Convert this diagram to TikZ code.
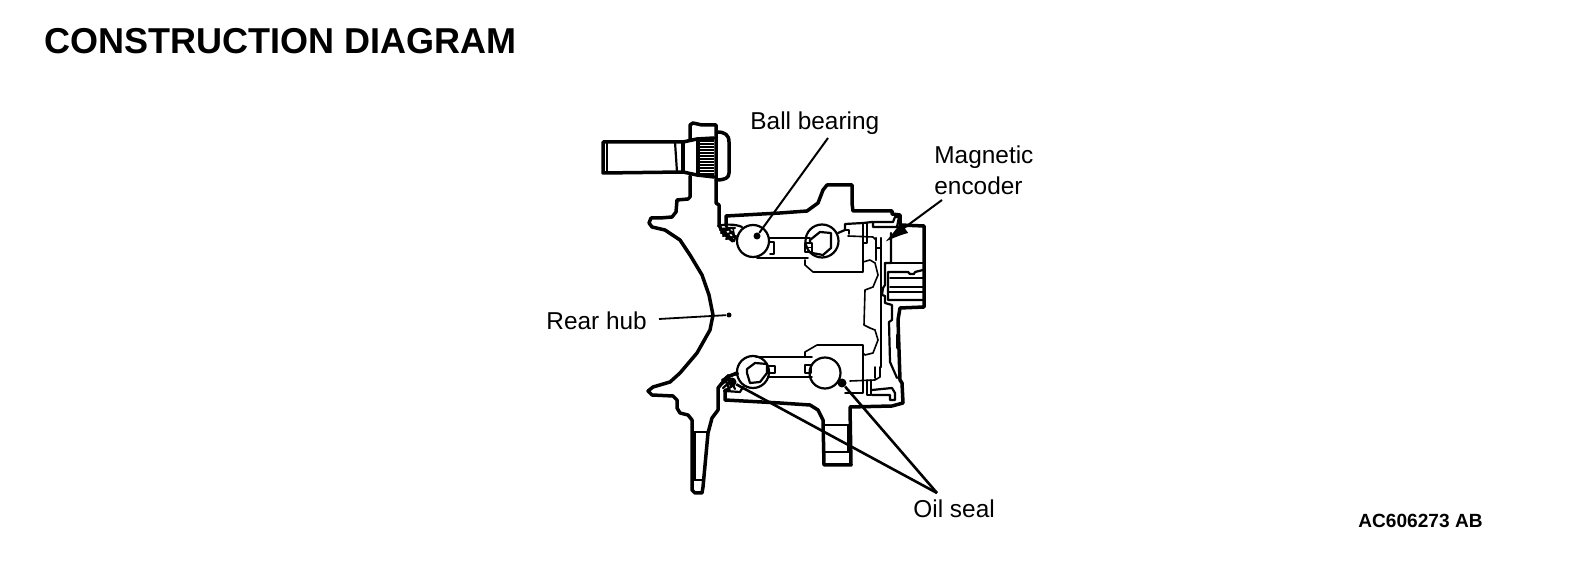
\documentclass[tikz,border=0pt]{standalone}
\usepackage{fontspec}
\setmainfont{Liberation Sans}
\usetikzlibrary{arrows.meta}
\tikzset{
 thick line/.style={line width=1.75pt,line join=round,line cap=round},
 mid line/.style={line width=1.1pt,line join=round,line cap=round},
 thin line/.style={line width=0.8pt,line join=round,line cap=round},
 leader/.style={line width=1pt},
 lab/.style={font=\fontsize{12.2pt}{15pt}\selectfont,inner sep=0pt,text=black,anchor=base west},
 dotm/.style={circle,fill=black,minimum size=3.5pt,inner sep=0pt}
}
\begin{document}
\begin{tikzpicture}[x=0.5pt,y=-0.5pt]
\useasboundingbox (0,0) rectangle (1584,576);
\fill[white] (0,0) rectangle (1584,576);
% Texts
\node[font=\bfseries\fontsize{18pt}{20pt}\selectfont,anchor=base west,inner sep=0pt] (title) at (44.5,54) {CONSTRUCTION DIAGRAM};
\node[font=\bfseries\fontsize{9.55pt}{11pt}\selectfont,anchor=base west,inner sep=0pt] (code) at (1358,528) {AC606273 AB};
\node[lab] (ball) at (750,130) {Ball bearing};
\node[lab] (magneta) at (934,164) {Magnetic};
\node[lab] (magnetb) at (934,195) {encoder};
\node[lab] (hub) at (546,330) {Rear hub};
\node[lab] (oil) at (913,517) {Oil seal};
% Stud
\draw[thick line] (683,142) -- (603,142) -- (603,173) -- (683,172);
\draw[mid line] (607,142) -- (607,173);
\draw[mid line] (675,142) -- (677,172);
\draw[thick line] (683,142) -- (683,172);
\draw[thick line] (683,142) -- (697,139) -- (714,138) (683,172) -- (697,175) -- (714,177);
\draw[thick line] (698,139) -- (698,175);
\foreach \y in {141,144,...,175}{\draw[line width=0.7pt] (700,\y) -- (714,\y);}
% Flange and hub outline
\draw[thick line] (717,132) .. controls (725,132) and (729,135) .. (729,142) -- (729,173) .. controls (729,178) and (725,180) .. (716,180);
\draw[thick line] (690,139) -- (690,125) -- (693,123) -- (702,125) -- (716,125) -- (716,203) -- (719,205) -- (719,225) -- (723,233) -- (733,241);
\draw[thick line] (690,176) -- (690,197) -- (688,199) -- (677,200) -- (676,212) -- (672,217) -- (660,218) -- (651,218) -- (649,223) -- (652,227) -- (665,230) -- (680,240) -- (690,255) -- (702,275) -- (709,295) -- (713,315) -- (710,330) -- (697,353) -- (680,373) -- (670,382) -- (653,387) -- (648,391) -- (652,395) -- (673,396) -- (677,400) -- (677,408) -- (680,413) -- (688,415) -- (692,420) -- (692,490) -- (695,493) -- (702,493) -- (703,487) -- (708,433) -- (712,418) -- (718,410) -- (718,388) -- (727,377) -- (737,373);
\draw[thin line] (693,432) -- (708,432) (695,432) -- (695,480) (693,480) -- (703,480);
% Body outline
\draw[thick line] (726,226) -- (726,216) -- (780,213) -- (807,211) -- (818,203) -- (823,190) -- (827,185) -- (852,185) -- (852,203) -- (853,211) -- (892,211) -- (892,214) -- (900,215) -- (900,225) -- (924,226) -- (924,307) -- (900,308) -- (898,320) -- (900,380) -- (902,383) -- (903,403) -- (892,406) -- (850,407) -- (851,465) -- (824,465) -- (823,420) -- (818,410) -- (810,405) -- (780,403) -- (725,400) -- (725,390);
\draw[mid line] (824,425) -- (850,425) (824,452) -- (849,452) (848,425) -- (848,452);
% Upper left seal
\draw[mid line] (718,226) .. controls (724,224) and (736,224) .. (742,227);
\draw[mid line] (720,230) .. controls (724,228) and (730,228) .. (735,228) (721,233) -- (729,229) (723,236) -- (733,232) (726,239) -- (736,236) (722,229) -- (734,241) (727,227) -- (736,238);
\draw[thin line] (733,228) -- (735,240);
% Lower left seal
\draw[mid line] (722,380) -- (729,376) -- (738,374);
\draw[mid line] (722,384) -- (729,379) (723,388) -- (731,381) (724,391) -- (734,385) (725,379) -- (730,391);
\draw[mid line] (725,391) -- (740,392) -- (743,387);
\draw[mid line] (735,389) -- (728,375);
% Upper bearings
\draw[mid line] (753,241) circle[radius=16];
\draw[thin line] (769,238) -- (810,238) (757,258) -- (808,258);
\draw[thin line] (770,242) -- (774,242) -- (774,254) -- (770,254);
\draw[mid line] (822,241) circle[radius=16.5];
\draw[mid line] (810,243) -- (810,240) -- (820,232) -- (831,233) -- (831,248) -- (823,255) -- (812,253);
\draw[thin line] (805,243) -- (812,243) -- (812,252) -- (805,252) -- cycle (805,247.5) -- (811,247.5);
\draw[mid line] (838,233) -- (845,230) -- (845,224) -- (863,223) -- (872,222) -- (893,222) -- (895,217) -- (899,217) -- (897,227) -- (873,227) -- (873,222);
\draw[thin line] (845,230) -- (849,230) -- (849,234);
\draw[thin line] (805,260) -- (805,265) -- (813,272) -- (863,272) -- (863,223);
\draw[thin line] (867,223) -- (867,243) -- (863,243);
\draw[thin line] (848,236) -- (873,237) -- (876,240) -- (876,248) -- (880,248);
% Hub inner contour
\draw[thin line] (863,262) -- (870,260) -- (875,263) -- (878,275) -- (873,287) -- (865,290) -- (864,325) -- (870,328) -- (875,330) -- (878,340) -- (873,353) -- (865,355) -- (863,353);
% Long plate lines
\draw[mid line] (881,238) -- (881,367);
\draw[mid line] (876,238) -- (876,260);
\draw[mid line] (891,233) -- (891,263) -- (885,263) -- (885,285) -- (883,288) -- (882,295) -- (885,296) -- (885,303) -- (892,305) -- (892,320) -- (889,322) -- (890,362) -- (897,378);
\draw[mid line] (885,263) -- (924,263);
\draw[mid line] (888,272) -- (908,272) (915,272) -- (923,270) (908,272) -- (910,274) -- (914,274) -- (915,272) (888,272) -- (888,300) -- (923,300);
\draw[thin line] (890,278) -- (923,278) (890,287) -- (923,287);
\draw[mid line] (888,292) -- (923,292);
\draw[thin line] (897,335) -- (899,335) -- (899,348) -- (897,348) -- cycle;
% Lower bearings
\draw[mid line] (753,372) circle[radius=16];
\draw[thin line] (756,357) -- (812,357) (769,377) -- (812,377);
\draw[mid line] (747,373) -- (747,369) -- (755,363) -- (767,364) -- (767,373) -- (760,382) -- (750,383) -- cycle;
\draw[thin line] (767,366) -- (775,366) -- (775,373) -- (767,373);
\draw[mid line] (825,373) circle[radius=15.5];
\draw[thin line] (805,365) -- (811,365) -- (811,373) -- (805,373) -- cycle;
\draw[thin line] (805,357) -- (805,352) -- (817,345) -- (863,345) -- (863,393) -- (845,393);
\draw[thin line] (850,381) -- (875,380) -- (880,377) -- (880,367) (875,367) -- (875,378);
\draw[thin line] (871,380) -- (871,395) -- (867,395) -- (867,380);
\draw[mid line] (872,390) -- (892,388) -- (895,393) -- (895,400) -- (890,400) -- (890,395) -- (872,395);
% Leaders
\coordinate (ballstart) at (828,138);
\coordinate (oilstart) at (937,493);
\coordinate (magstart) at (942,200);
\coordinate (magtip) at (885,242);
\coordinate (hubstart) at (659,319);
\node[dotm] (balldot) at (757,236) {};
\node[dotm,minimum size=2.5pt] (hubdot) at (729,315) {};
\node[dotm,minimum size=4.5pt] (oildota) at (732,382) {};
\node[dotm,minimum size=4.5pt] (oildotb) at (842,383) {};
\draw[leader] (ballstart) -- (balldot);
\draw[leader,line width=0.9pt] (hubstart) -- (hubdot);
\draw[leader,line width=1.3pt] (oilstart) -- (oildota);
\draw[leader,line width=1.3pt] (oilstart) -- (oildotb);
\draw[leader,-{Latex[length=12pt,width=6.5pt]}] (magstart) -- (magtip);
\end{tikzpicture}
\end{document}
